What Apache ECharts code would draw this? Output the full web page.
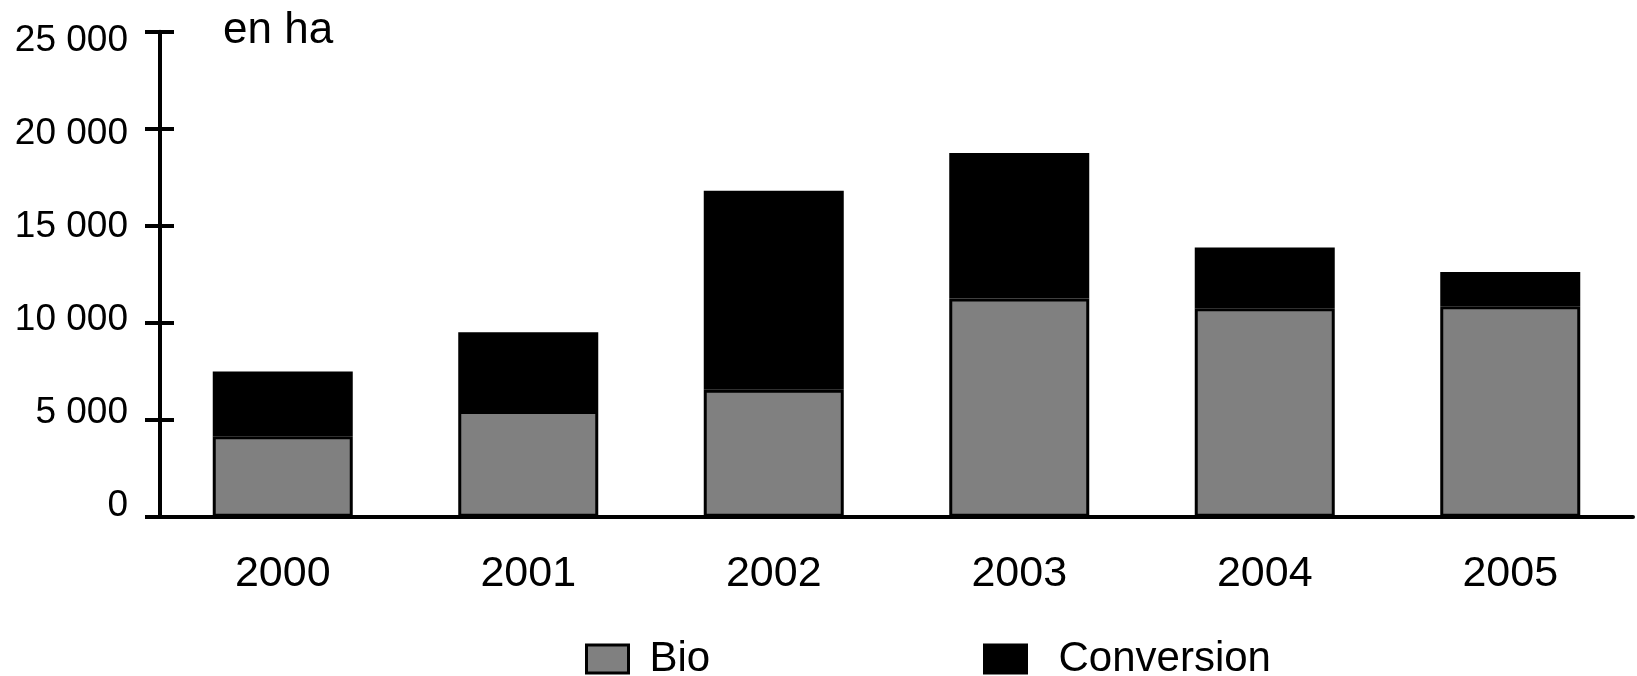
<!DOCTYPE html>
<html>
<head>
<meta charset="utf-8">
<script src="https://cdn.jsdelivr.net/npm/echarts@6/dist/echarts.min.js"></script>
<style>
  html, body { margin: 0; padding: 0; background: #fff; }
  #chart { width: 1637px; height: 676px; }
</style>
</head>
<body>
<div id="chart"></div>
<script>
// Surfaces in organic farming (hectares), by year
const years = ['2000', '2001', '2002', '2003', '2004', '2005'];
const bio = [4150, 5450, 6550, 11250, 10750, 10850];
const conversion = [3330, 4060, 10250, 7500, 3130, 1760];
const yTicks = [0, 5000, 10000, 15000, 20000, 25000];

const FONT = '"Liberation Sans", Arial, sans-serif';
const fmt = v => (v === 0 ? '0' : (v / 1000) + ' 000');

const chart = echarts.init(document.getElementById('chart'), null, { renderer: 'canvas' });

const baseY = {
  type: 'value',
  position: 'left',
  offset: 0,
  min: 0,
  max: 25000,
  interval: 5000,
  splitLine: { show: false },
  axisLabel: { show: false }
};

const legendText = { fontFamily: FONT, fontSize: 42, lineHeight: 42, color: '#000' };

chart.setOption({
  animation: false,
  backgroundColor: '#fff',
  grid: { left: 160, right: 4, top: 31.7, bottom: 159.3, containLabel: false },
  legend: [
    {
      data: [{ name: 'Bio', icon: 'rect', itemStyle: { color: '#808080', borderColor: '#000', borderWidth: 3 } }],
      left: 585, top: 638, padding: 0, itemWidth: 42, itemHeight: 28, selectedMode: false,
      textStyle: Object.assign({ padding: [0, 0, 0, 16] }, legendText)
    },
    {
      data: [{ name: 'Conversion', icon: 'rect', itemStyle: { color: '#000', borderColor: '#000', borderWidth: 3 } }],
      left: 983, top: 638, padding: 0, itemWidth: 42, itemHeight: 28, selectedMode: false,
      textStyle: Object.assign({ padding: [0, 0, 0, 27] }, legendText)
    }
  ],
  xAxis: {
    type: 'category',
    data: years,
    axisLine: { show: true, lineStyle: { color: '#000', width: 4 } },
    axisTick: { show: false },
    axisLabel: { fontFamily: FONT, fontSize: 43, color: '#000', margin: 36 }
  },
  yAxis: [
    Object.assign({}, baseY, {
      axisLine: { show: true, lineStyle: { color: '#000', width: 4 } },
      axisTick: { show: true, length: 15, lineStyle: { color: '#000', width: 4 } }
    }),
    Object.assign({}, baseY, {
      axisLine: { show: false },
      axisTick: { show: true, inside: true, length: 14, lineStyle: { color: '#000', width: 4 } }
    }),
    {
      // label-only axis: labels sit slightly off the tick marks
      type: 'value',
      position: 'left',
      offset: 0,
      min: -575,
      max: 25500,
      splitLine: { show: false },
      axisLine: { show: false },
      axisTick: { show: false },
      axisLabel: {
        customValues: yTicks,
        formatter: fmt,
        fontFamily: FONT, fontSize: 37, color: '#000', margin: 32
      }
    }
  ],
  graphic: [{
    type: 'text',
    left: 223,
    top: 9,
    style: { text: 'en ha', font: '44px ' + FONT, fill: '#000' }
  }],
  series: [
    {
      name: 'Bio', type: 'bar', stack: 'total', data: bio, barWidth: 140,
      itemStyle: { color: '#808080', borderColor: '#000', borderWidth: 3 }
    },
    {
      name: 'Conversion', type: 'bar', stack: 'total', data: conversion, barWidth: 140,
      itemStyle: { color: '#000', borderColor: '#000', borderWidth: 3 }
    }
  ]
});
</script>
</body>
</html>
